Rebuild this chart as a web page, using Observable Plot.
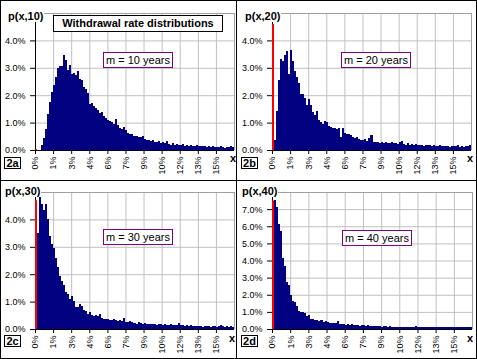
<!DOCTYPE html>
<html>
<head>
<meta charset="utf-8">
<script src="https://cdn.jsdelivr.net/npm/d3@7"></script>
<script src="https://cdn.jsdelivr.net/npm/@observablehq/plot@0.6"></script>
<style>
  body { margin: 0; background: #fff; }
  #wrap { position: relative; width: 477px; height: 359px; box-sizing: border-box; border: 1px solid #000; background: #fff; font-family: Arial, "Liberation Sans", sans-serif; overflow: hidden; }
  .panel { position: absolute; }
  .vline { position: absolute; left: 235px; top: 0; width: 1px; height: 359px; background: #000; }
  .hline { position: absolute; left: 0; top: 179px; width: 477px; height: 1px; background: #000; }
  .plab { position: absolute; font-weight: bold; font-size: 11px; line-height: 12px; background: #fff; padding: 0 1px; white-space: nowrap; }
  .tag { position: absolute; font-weight: bold; font-size: 11px; line-height: 10px; border: 1px solid #000; width: 15px; height: 10px; text-align: center; background: #fff; }
  .xlab { position: absolute; font-weight: bold; font-size: 11px; line-height: 12px; }
  .title { position: absolute; width: 168px; height: 15px; border: 1px solid #000; background: #fff; font-weight: bold; font-size: 11px; line-height: 15px; text-align: center; white-space: nowrap; }
  .mbox { position: absolute; width: 68px; height: 14px; border: 1px solid #800080; background: #fff; font-size: 11px; line-height: 14px; text-align: center; white-space: nowrap; }
</style>
</head>
<body>
<div id="wrap"></div>
<script>
// ---- data (bin heights in %, bins of 1/6 % of withdrawal rate) ----
const binWidth = 1 / 6;
const m10 = [0,0,0,0.17,0.42,0.76,1.33,1.77,2.13,2.38,
  2.68,2.99,3.07,3.07,3.48,3.29,2.93,3.10,2.78,2.82,
  2.74,2.88,2.60,2.55,2.30,2.22,2.07,1.67,1.70,1.62,
  1.55,1.45,1.34,1.38,1.25,1.18,1.08,1.05,1.02,0.95,
  1.13,0.90,0.82,0.78,0.85,0.72,0.62,0.58,0.60,0.52,
  0.50,0.48,0.46,0.50,0.40,0.36,0.38,0.33,0.35,0.30,
  0.28,0.32,0.25,0.30,0.26,0.34,0.22,0.20,0.24,0.19,
  0.22,0.20,0.18,0.21,0.16,0.18,0.15,0.17,0.14,0.16,
  0.17,0.15,0.16,0.13,0.15,0.12,0.14,0.11,0.13,0.12,
  0.10,0.12,0.15,0.11,0.09,0.12,0.10,0.13,0.11];
const m20 = [0,0.37,1.43,2.56,3.33,3.26,3.48,3.62,2.78,3.66,
  3.23,2.87,2.68,2.44,2.04,2.05,1.90,1.65,1.85,1.65,
  1.40,1.28,1.44,1.10,1.04,0.94,1.07,1.04,0.88,0.85,
  0.82,0.80,0.78,0.82,0.49,0.82,0.62,0.58,0.60,0.55,
  0.47,0.44,0.46,0.40,0.38,0.35,0.40,0.32,0.45,0.55,
  0.30,0.28,0.30,0.27,0.28,0.26,0.30,0.25,0.27,0.29,
  0.24,0.26,0.22,0.28,0.34,0.22,0.20,0.24,0.19,0.22,
  0.18,0.21,0.17,0.19,0.18,0.16,0.20,0.17,0.18,0.15,
  0.19,0.16,0.14,0.17,0.15,0.13,0.16,0.14,0.12,0.15,
  0.13,0.16,0.20,0.12,0.14,0.11,0.15,0.13,0.17];
const m30 = [0.20,3.51,4.83,4.55,4.34,4.55,4.00,3.39,3.09,2.96,
  2.60,2.26,1.95,1.74,1.62,1.34,1.26,1.11,1.20,1.04,
  0.79,0.79,0.91,0.83,0.71,0.65,0.55,0.61,0.52,0.48,
  0.50,0.46,0.55,0.40,0.36,0.38,0.37,0.34,0.32,0.36,
  0.33,0.30,0.34,0.28,0.40,0.27,0.25,0.29,0.26,0.22,
  0.20,0.24,0.21,0.19,0.22,0.20,0.18,0.19,0.17,0.20,
  0.16,0.18,0.19,0.15,0.17,0.16,0.14,0.18,0.15,0.16,
  0.13,0.22,0.14,0.16,0.12,0.15,0.11,0.13,0.10,0.12,
  0.11,0.10,0.12,0.09,0.11,0.10,0.12,0.09,0.10,0.11,
  0.09,0.12,0.15,0.10,0.09,0.11,0.08,0.10,0.09];
const m40 = [1.67,7.53,7.10,6.16,5.73,4.16,3.67,2.73,2.59,2.00,
  1.65,1.57,1.37,1.06,1.02,0.98,0.92,0.78,0.82,0.60,
  0.57,0.55,0.50,0.47,0.52,0.42,0.44,0.40,0.36,0.34,
  0.37,0.33,0.45,0.32,0.28,0.30,0.26,0.27,0.25,0.28,
  0.24,0.22,0.23,0.20,0.24,0.21,0.19,0.22,0.18,0.17,
  0.16,0.18,0.15,0.16,0.14,0.17,0.15,0.13,0.16,0.14,
  0.12,0.13,0.11,0.12,0.14,0.11,0.12,0.10,0.13,0.11,
  0.12,0.15,0.11,0.12,0.10,0.12,0.11,0.10,0.12,0.11,
  0.10,0.12,0.11,0.10,0.12,0.11,0.10,0.12,0.11,0.10,
  0.12,0.11,0.10,0.11,0.12,0.12,0.11,0.12,0.11];
// probability mass at exactly 0 (red line), in %
const zeroMass = [0.04, 4.6, 4.7, 7.5];
const horizons = [10, 20, 30, 40];
const panelTags = ["2a", "2b", "2c", "2d"];
const yMaxes = [5, 5, 5, 8];
const xMax = 16.5;
const xTickValues = [0, 1.5, 3, 4.5, 6, 7.5, 9, 10.5, 12, 13.5, 15];
const xTickLabels = ["0%","1%","3%","4%","6%","7%","9%","10%","12%","13%","15%"];
const titleText = "Withdrawal rate distributions";
const series = [m10, m20, m30, m40];

// ---- layout (page coordinates; wrap has a 1px border) ----
const wrap = document.getElementById("wrap");
const panels = [
  {left: 0, top: 0, width: 235, height: 179, ml: 34, mr: 2, mt: 12, mb: 30},
  {left: 236, top: 0, width: 239, height: 179, ml: 35, mr: 5, mt: 12, mb: 30},
  {left: 0, top: 180, width: 235, height: 177, ml: 34, mr: 2, mt: 11, mb: 29},
  {left: 236, top: 180, width: 239, height: 177, ml: 35, mr: 4, mt: 11, mb: 29}
];

series.forEach((vals, k) => {
  const p = panels[k];
  const yMax = yMaxes[k];
  const yTicks = d3.range(0, yMax);
  const bins = vals.map((v, i) => ({x1: i * binWidth, x2: (i + 1) * binWidth, y: v}));
  const chart = Plot.plot({
    width: p.width,
    height: p.height,
    marginLeft: p.ml, marginRight: p.mr, marginTop: p.mt, marginBottom: p.mb,
    style: {fontFamily: "Arial, 'Liberation Sans', sans-serif", fontSize: "9px", color: "#000", background: "transparent", overflow: "visible"},
    x: {domain: [0, xMax], label: null},
    y: {domain: [0, yMax], label: null},
    marks: [
      Plot.gridX(xTickValues, {stroke: "#c0c0c0", strokeOpacity: 1}),
      Plot.gridY(yTicks.slice(1), {stroke: "#c0c0c0", strokeOpacity: 1}),
      Plot.ruleY([yMax], {stroke: "#a0a0a0"}),
      Plot.ruleX([xMax], {stroke: "#a0a0a0"}),
      Plot.rectY(bins, {x1: "x1", x2: "x2", y: "y", fill: "#000080", shapeRendering: "crispEdges"}),
      Plot.ruleX([0], {stroke: "#000"}),
      Plot.ruleY([0], {stroke: "#000"}),
      Plot.ruleX([0], {y1: 0, y2: zeroMass[k], stroke: "#ff0000", strokeWidth: 2, dx: 0.5}),
      Plot.axisY(yTicks, {label: null, tickFormat: d => d.toFixed(1) + "%", tickSize: 5, tickPadding: 5}),
      Plot.axisX(xTickValues, {label: null, tickFormat: (d, i) => xTickLabels[i], tickRotate: -90, tickSize: 4, tickPadding: 2})
    ]
  });
  chart.classList.add("panel");
  chart.style.left = p.left + "px";
  chart.style.top = p.top + "px";
  wrap.appendChild(chart);
});

// dividers
const v = document.createElement("div"); v.className = "vline"; wrap.appendChild(v);
const h = document.createElement("div"); h.className = "hline"; wrap.appendChild(h);

function addDiv(cls, text, left, top) {
  const d = document.createElement("div");
  d.className = cls;
  d.textContent = text;
  d.style.left = left + "px";
  d.style.top = top + "px";
  wrap.appendChild(d);
  return d;
}
const pPos = [[6, 9], [243, 9], [3, 184], [240, 184]];
const tagPos = [[3, 156], [240, 156], [3, 334], [240, 334]];
const xPos = [[229, 151], [466, 151], [228, 331], [466, 331]];
const mPos = [[102, 51], [340, 51], [102, 228], [341, 229]];
horizons.forEach((m, k) => {
  addDiv("plab", "p(x," + m + ")", pPos[k][0], pPos[k][1]);
  addDiv("tag", panelTags[k], tagPos[k][0], tagPos[k][1]);
  addDiv("xlab", "x", xPos[k][0], xPos[k][1]);
  addDiv("mbox", "m = " + m + " years", mPos[k][0], mPos[k][1]);
});
addDiv("title", titleText, 52, 14);
</script>
</body>
</html>
